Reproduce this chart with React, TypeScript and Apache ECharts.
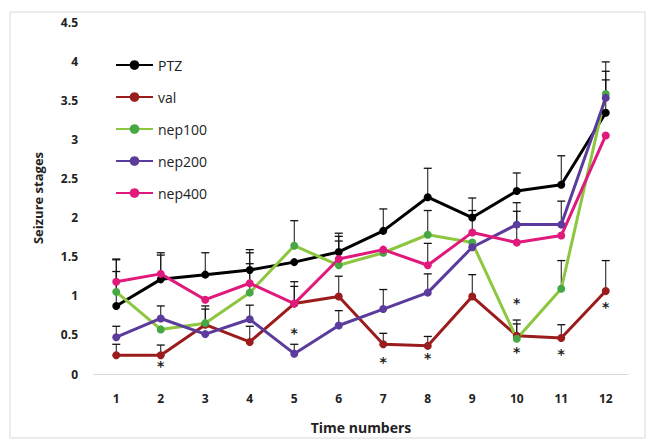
import React, { useEffect, useRef } from "react";
import * as echarts from "echarts";

const categories = ["1", "2", "3", "4", "5", "6", "7", "8", "9", "10", "11", "12"];
const seriesNames = ["PTZ", "val", "nep100", "nep200", "nep400"];

const ptz = [0.87, 1.21, 1.27, 1.33, 1.43, 1.56, 1.83, 2.26, 2.0, 2.34, 2.42, 3.34];
const val = [0.24, 0.24, 0.63, 0.41, 0.9, 0.99, 0.38, 0.36, 0.99, 0.49, 0.46, 1.06];
const nep100 = [1.05, 0.57, 0.65, 1.04, 1.64, 1.39, 1.55, 1.78, 1.68, 0.45, 1.09, 3.58];
const nep200 = [0.47, 0.71, 0.51, 0.7, 0.26, 0.62, 0.83, 1.04, 1.62, 1.91, 1.91, 3.53];
const nep400 = [1.18, 1.28, 0.95, 1.16, 0.9, 1.47, 1.59, 1.39, 1.81, 1.68, 1.77, 3.05];

const ptzErr = [0.6, 0.34, 0.28, 0.26, 0, 0.24, 0.28, 0.37, 0.25, 0.23, 0.37, 0.42];
const valErr = [0.14, 0.13, 0.2, 0.2, 0.22, 0.26, 0.14, 0.12, 0.28, 0.2, 0.17, 0.39];
const nep100Err = [0.26, 0, 0.22, 0.37, 0.32, 0.31, 0, 0.31, 0, 0.19, 0.36, 0.41];
const nep200Err = [0.14, 0.16, 0, 0.18, 0.12, 0.19, 0.25, 0.24, 0, 0.28, 0.3, 0.34];
const nep400Err = [0.28, 0.24, 0, 0.39, 0.28, 0.29, 0, 0.28, 0.28, 0.4, 0, 0];

const starIdx = [1, 4, 6, 7, 9, 9, 10, 11];
const starVal = [0.1, 0.53, 0.15, 0.2, 0.91, 0.28, 0.25, 0.86];

const lineColors = ["#000000", "#9B1C1C", "#8DC63F", "#5B3B9B", "#E0197D"];
const markerColors = ["#000000", "#9B1C1C", "#45A845", "#5B3B9B", "#E0197D"];

export default function App() {
  const ref = useRef<HTMLDivElement>(null);
  useEffect(() => {
    document.body.style.margin = "0";
    if (!ref.current) return;
    const chart = echarts.init(ref.current, undefined, { renderer: "svg" });
    const values = [ptz, val, nep100, nep200, nep400];
    const errs = [ptzErr, valErr, nep100Err, nep200Err, nep400Err];

    const lineSeries = seriesNames.map((name, k) => ({
      name,
      type: "line",
      data: values[k],
      symbol: "circle",
      symbolSize: 8,
      z: 3,
      lineStyle: { color: lineColors[k], width: 3 },
      itemStyle: { color: markerColors[k] },
    }));

    const errSeries = seriesNames.map((name, k) => ({
      name: name + "_err",
      type: "custom",
      z: 2,
      silent: true,
      data: values[k]
        .map((v, i) => [i, v, v + errs[k][i], errs[k][i]])
        .filter((d) => d[3] > 0),
      encode: { x: 0, y: [1, 2] },
      renderItem: (params: any, api: any) => {
        const x = api.value(0);
        const lo = api.coord([x, api.value(1)]);
        const hi = api.coord([x, api.value(2)]);
        return {
          type: "group",
          children: [
            {
              type: "line",
              shape: { x1: lo[0], y1: lo[1], x2: hi[0], y2: hi[1] },
              style: { stroke: "#111", lineWidth: 1 },
            },
            {
              type: "line",
              shape: { x1: hi[0] - 4, y1: hi[1], x2: hi[0] + 4, y2: hi[1] },
              style: { stroke: "#111", lineWidth: 1.3 },
            },
          ],
        };
      },
    }));

    const starSeries = {
      name: "stars",
      type: "custom",
      z: 4,
      silent: true,
      data: starIdx.map((i, k) => [i, starVal[k]]),
      encode: { x: 0, y: 1 },
      renderItem: (params: any, api: any) => {
        const p = api.coord([api.value(0), api.value(1)]);
        return {
          type: "text",
          x: p[0],
          y: p[1],
          style: {
            text: "*",
            fill: "#222",
            font: "bold 14px 'DejaVu Sans'",
            align: "center",
            verticalAlign: "middle",
          },
        };
      },
    };

    chart.setOption({
      animation: false,
      backgroundColor: "#ffffff",
      textStyle: { fontFamily: "'Open Sans', sans-serif" },
      graphic: [
        {
          type: "rect",
          shape: { x: 10, y: 12, width: 635, height: 426 },
          style: { fill: "none", stroke: "#d9d9d9", lineWidth: 1 },
          z: -1,
        },
      ],
      grid: { left: 94, right: 26, top: 22, bottom: 69 },
      legend: {
        data: seriesNames,
        orient: "vertical",
        left: 110,
        top: 53,
        itemWidth: 37,
        itemHeight: 12,
        itemGap: 18,
        textStyle: { fontSize: 14, color: "#222", fontFamily: "'Open Sans', sans-serif" },
      },
      xAxis: {
        type: "category",
        data: categories,
        boundaryGap: true,
        axisLine: { show: true, lineStyle: { color: "#d9d9d9", width: 1 } },
        axisTick: { show: false },
        axisLabel: { margin: 18, fontSize: 12, fontWeight: "bold", color: "#222" },
        name: "Time numbers",
        nameLocation: "middle",
        nameGap: 46,
        nameTextStyle: { fontSize: 14, fontWeight: "bold", color: "#222" },
      },
      yAxis: {
        type: "value",
        min: 0,
        max: 4.5,
        interval: 0.5,
        splitLine: { show: false },
        axisLine: { show: false },
        axisTick: { show: false },
        axisLabel: { margin: 16, fontSize: 12, fontWeight: "bold", color: "#222" },
        name: "Seizure stages",
        nameLocation: "middle",
        nameGap: 50,
        nameTextStyle: { fontSize: 13, fontWeight: "bold", color: "#222" },
      },
      series: [...errSeries, ...lineSeries, starSeries],
    });
    return () => chart.dispose();
  }, []);
  return <div ref={ref} style={{ width: 654, height: 443 }} />;
}
